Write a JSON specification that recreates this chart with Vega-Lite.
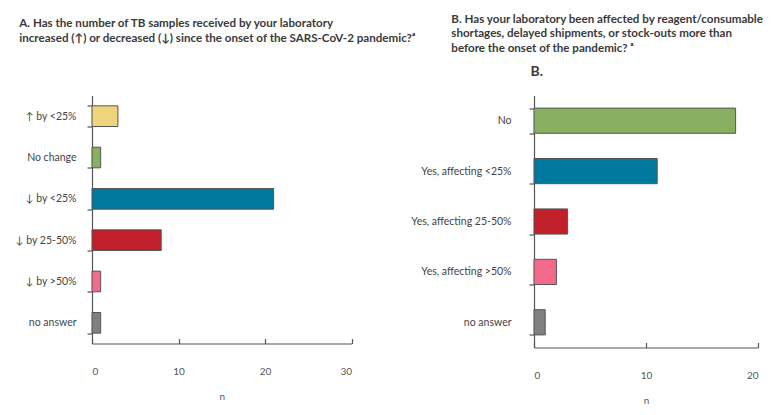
{
  "$schema": "https://vega.github.io/schema/vega-lite/v6.json",
  "background": "white",
  "padding": {"left": 14, "top": 13.5, "right": 5, "bottom": 5},
  "config": {"font": "Lato", "view": {"stroke": null}},
  "bounds": "flush",
  "spacing": 182,
  "resolve": {"scale": {"color": "independent"}},
  "hconcat": [
    {
      "width": 259.5,
      "height": 248,
      "title": {
        "text": ["A. Has the number of TB samples received by your laboratory", "increased (↑) or decreased (↓) since the onset of the SARS-CoV-2 pandemic?ᵃ"],
        "anchor": "start", "frame": "group", "dx": -72.7, "offset": 46,
        "fontSize": 11.6, "fontWeight": "bold", "color": "#3a3a3a", "lineHeight": 14.5, "font": "Lato"
      },
      "data": {"values": [
        {"answer": "↑ by <25%", "n": 3},
        {"answer": "No change", "n": 1},
        {"answer": "↓ by <25%", "n": 21},
        {"answer": "↓ by 25-50%", "n": 8},
        {"answer": "↓ by >50%", "n": 1},
        {"answer": "no answer", "n": 1}
      ]},
      "mark": {"type": "bar", "stroke": "#555555", "strokeWidth": 1},
      "encoding": {
        "y": {
          "field": "answer", "type": "nominal",
          "sort": ["↑ by <25%", "No change", "↓ by <25%", "↓ by 25-50%", "↓ by >50%", "no answer"],
          "scale": {"paddingInner": 0.5, "paddingOuter": 0.25},
          "axis": {"title": null, "tickBand": "extent", "tickSize": 5, "labelPadding": 11, "labelFontSize": 10.5, "labelColor": "#444444", "domainColor": "#555555", "tickColor": "#555555", "domainWidth": 1.2, "tickWidth": 1.2}
        },
        "x": {
          "field": "n", "type": "quantitative",
          "scale": {"domain": [0, 30]},
          "axis": {"values": [0, 10, 20, 30], "tickSize": -5, "labelPadding": 28, "title": "n", "titlePadding": 15, "titleFontWeight": "normal", "titleFontSize": 10, "titleColor": "#555555", "grid": false, "labelFontSize": 10, "labelColor": "#555555", "domainColor": "#555555", "tickColor": "#555555", "domainWidth": 1.2, "tickWidth": 1.2}
        },
        "color": {
          "field": "answer", "type": "nominal",
          "scale": {"domain": ["↑ by <25%", "No change", "↓ by <25%", "↓ by 25-50%", "↓ by >50%", "no answer"], "range": ["#EED47C", "#88B060", "#00799F", "#C1202A", "#F26B8A", "#808080"]},
          "legend": null
        }
      }
    },
    {
      "width": 224,
      "height": 252,
      "title": {
        "text": ["B. Has your laboratory been affected by reagent/consumable", "shortages, delayed shipments, or stock-outs more than", "before the onset of the pandemic? ᵃ"],
        "anchor": "start", "frame": "group", "dx": -82.7, "offset": 10,
        "fontSize": 11.6, "fontWeight": "bold", "color": "#3a3a3a", "lineHeight": 14.5, "font": "Lato"
      },
      "data": {"values": [
        {"answer": "No", "n": 18},
        {"answer": "Yes, affecting <25%", "n": 11},
        {"answer": "Yes, affecting 25-50%", "n": 3},
        {"answer": "Yes, affecting >50%", "n": 2},
        {"answer": "no answer", "n": 1}
      ]},
      "mark": {"type": "bar", "stroke": "#555555", "strokeWidth": 1},
      "encoding": {
        "y": {
          "field": "answer", "type": "nominal",
          "sort": ["No", "Yes, affecting <25%", "Yes, affecting 25-50%", "Yes, affecting >50%", "no answer"],
          "scale": {"paddingInner": 0.5, "paddingOuter": 0.25},
          "axis": {"title": "B.", "titleAngle": 0, "titleAlign": "left", "titleBaseline": "bottom", "titleX": -4, "titleY": -17, "titleFontSize": 14, "titleFontWeight": "bold", "titleColor": "#3a3a3a", "tickBand": "extent", "tickSize": 5, "labelPadding": 18, "labelFontSize": 10.5, "labelColor": "#444444", "domainColor": "#555555", "tickColor": "#555555", "domainWidth": 1.2, "tickWidth": 1.2}
        },
        "x": {
          "field": "n", "type": "quantitative",
          "scale": {"domain": [0, 20]},
          "axis": {"values": [0, 10, 20], "tickSize": -5, "labelPadding": 28, "title": "n", "titlePadding": 15, "titleFontWeight": "normal", "titleFontSize": 10, "titleColor": "#555555", "grid": false, "labelFontSize": 10, "labelColor": "#555555", "domainColor": "#555555", "tickColor": "#555555", "domainWidth": 1.2, "tickWidth": 1.2}
        },
        "color": {
          "field": "answer", "type": "nominal",
          "scale": {"domain": ["No", "Yes, affecting <25%", "Yes, affecting 25-50%", "Yes, affecting >50%", "no answer"], "range": ["#88B060", "#00799F", "#C1202A", "#F26B8A", "#808080"]},
          "legend": null
        }
      }
    }
  ]
}
